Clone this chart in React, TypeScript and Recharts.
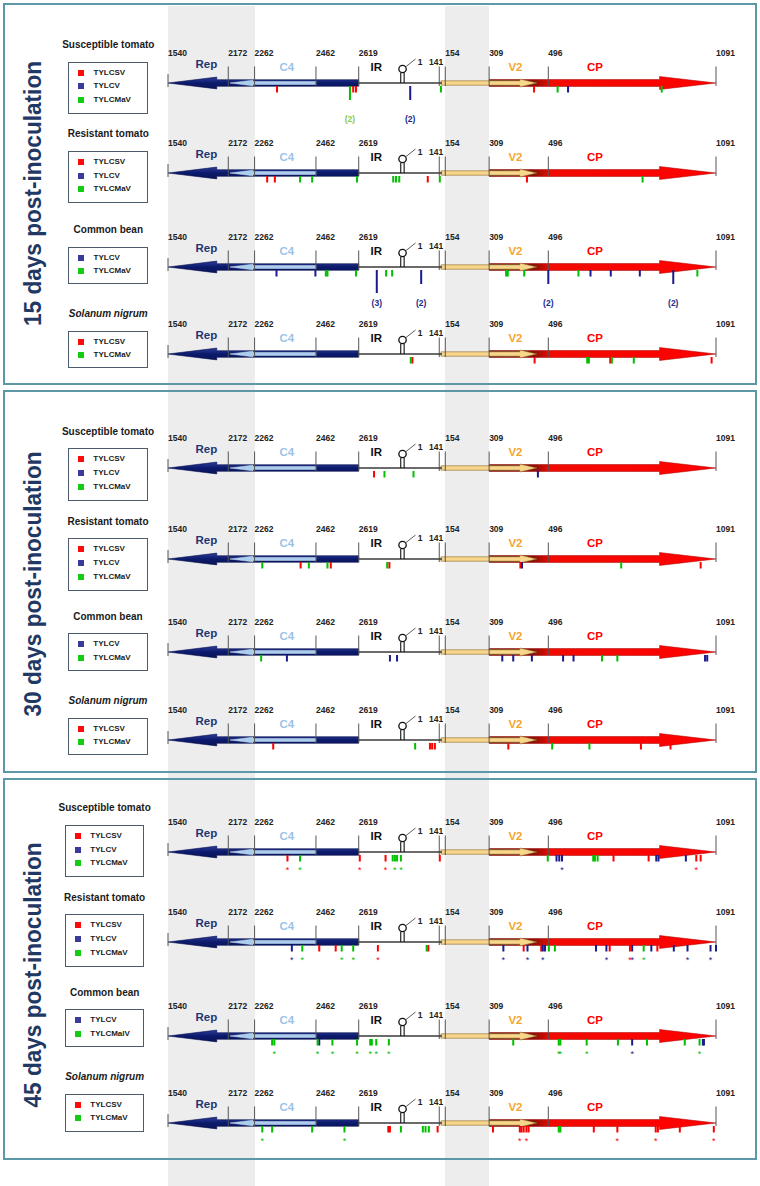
import React from 'react';
import {
  ScatterChart,
  Scatter,
  XAxis,
  YAxis,
  ReferenceArea,
  ReferenceLine,
  ReferenceDot,
  Legend,
} from 'recharts';

const FONT = '"Liberation Sans", Arial, Helvetica, sans-serif';

// ---------------- genome map (x = % along the drawn segment: 0 = nt 1540, 100 = nt 1091)
const breakpointLabels = ['1540', '2172', '2262', '2462', '2619', '141', '154', '309', '496', '1091'];
const breakpointMapPos = [0, 11.0, 15.8, 27.0, 34.8, 49.5, 50.6, 58.6, 69.4, 100];
const stemLoopMapPos = 42.8;
const stemLoopLabel = '1';
const irSpan = [34.8, 50.0];

const geneLabels = ['Rep', 'C4', 'IR', 'V2', 'CP'];
const geneLabelMapPos = [7.0, 21.7, 38.0, 63.4, 77.9];

const orfNames = ['Rep', 'C4', 'CP', 'V2'];
const orfFrom = [34.8, 27.0, 58.6, 49.8];
const orfTo = [0, 11.3, 100, 67.3];
const orfHeadBase = [8.9, 15.5, 89.7, 64.2];

const panelTitles = ['15 days post-inoculation', '30 days post-inoculation', '45 days post-inoculation'];

// ---------------- mutations (x = map position, n = number of clones, s = starred)
type Mut = { x: number; n?: number; s?: number };

const m15SusSV: Mut[] = [{ x: 19.9 }, { x: 33.8 }, { x: 34.3 }, { x: 66.8 }];
const m15SusV: Mut[] = [{ x: 44.2, n: 2 }, { x: 73.0 }];
const m15SusMaV: Mut[] = [{ x: 33.2, n: 2 }, { x: 49.8 }, { x: 71.1 }, { x: 90.1 }];

const m15ResSV: Mut[] = [{ x: 18.1 }, { x: 19.5 }, { x: 47.4 }, { x: 65.5 }];
const m15ResV: Mut[] = [];
const m15ResMaV: Mut[] = [{ x: 24.1 }, { x: 26.3 }, { x: 34.5 }, { x: 41.1 }, { x: 41.6 }, { x: 42.2 }, { x: 49.6 }, { x: 86.6 }];

const m15BeanV: Mut[] = [{ x: 19.8 }, { x: 26.9 }, { x: 38.1, n: 3 }, { x: 46.2, n: 2 }, { x: 69.4, n: 2 }, { x: 77.1 }, { x: 80.8 }, { x: 86.1 }, { x: 92.2, n: 2 }];
const m15BeanMaV: Mut[] = [{ x: 28.8 }, { x: 29.1 }, { x: 34.3 }, { x: 39.8 }, { x: 40.9 }, { x: 61.7 }, { x: 62.0 }, { x: 65.0 }, { x: 74.9 }, { x: 96.6 }];

const m15SolSV: Mut[] = [{ x: 44.6 }, { x: 66.9 }, { x: 80.7 }, { x: 99.2 }];
const m15SolMaV: Mut[] = [{ x: 44.3 }, { x: 76.5 }, { x: 76.8 }, { x: 81.0 }, { x: 85.0 }];

const m30SusSV: Mut[] = [{ x: 37.6 }];
const m30SusV: Mut[] = [{ x: 67.5 }];
const m30SusMaV: Mut[] = [{ x: 39.5 }, { x: 44.8 }];

const m30ResSV: Mut[] = [{ x: 24.2 }, { x: 29.7 }, { x: 40.4 }, { x: 64.3 }, { x: 97.2 }];
const m30ResV: Mut[] = [{ x: 64.6 }];
const m30ResMaV: Mut[] = [{ x: 17.2 }, { x: 25.7 }, { x: 29.1 }, { x: 40.0 }, { x: 82.7 }];

const m30BeanV: Mut[] = [{ x: 21.7 }, { x: 40.5 }, { x: 41.8 }, { x: 61.0 }, { x: 63.0 }, { x: 66.4 }, { x: 72.1 }, { x: 74.0 }, { x: 98.0 }, { x: 98.4 }];
const m30BeanMaV: Mut[] = [{ x: 17.0 }, { x: 79.2 }, { x: 82.0 }];

const m30SolSV: Mut[] = [{ x: 19.2 }, { x: 47.8 }, { x: 48.2 }, { x: 48.7 }, { x: 62.1 }, { x: 86.3 }, { x: 91.7 }];
const m30SolMaV: Mut[] = [{ x: 45.1 }, { x: 70.1 }, { x: 76.9 }];

const m45SusSV: Mut[] = [{ x: 21.8, s: 1 }, { x: 35.0, s: 1 }, { x: 39.7, s: 1 }, { x: 49.6 }, { x: 81.3 }, { x: 87.7 }, { x: 96.4, s: 1 }, { x: 97.2 }];
const m45SusV: Mut[] = [{ x: 70.9 }, { x: 71.4 }, { x: 71.9, s: 1 }, { x: 89.1 }, { x: 89.5 }, { x: 94.5 }];
const m45SusMaV: Mut[] = [{ x: 24.1, s: 1 }, { x: 41.0 }, { x: 41.4, s: 1 }, { x: 41.8 }, { x: 42.5, s: 1 }, { x: 69.3 }, { x: 77.6 }, { x: 77.9 }, { x: 78.4 }];

const m45ResSV: Mut[] = [{ x: 27.6 }, { x: 30.6 }, { x: 38.3, s: 1 }, { x: 47.5 }, { x: 64.9 }, { x: 68.1 }, { x: 80.6 }, { x: 84.3, s: 1 }, { x: 89.3 }];
const m45ResV: Mut[] = [{ x: 22.6, s: 1 }, { x: 61.2, s: 1 }, { x: 65.6, s: 1 }, { x: 68.4, s: 1 }, { x: 68.8 }, { x: 78.1 }, { x: 80.0, s: 1 }, { x: 84.7, s: 1 }, { x: 88.2 }, { x: 92.3 }, { x: 94.8, s: 1 }, { x: 99.0, s: 1 }, { x: 100 }];
const m45ResMaV: Mut[] = [{ x: 24.5, s: 1 }, { x: 31.7, s: 1 }, { x: 33.8, s: 1 }, { x: 47.2 }, { x: 69.5 }, { x: 70.6 }, { x: 86.8, s: 1 }];

const m45BeanV: Mut[] = [{ x: 27.6 }, { x: 84.7, s: 1 }, { x: 97.6 }, { x: 97.8 }];
const m45BeanMalV: Mut[] = [{ x: 19.0 }, { x: 19.4, s: 1 }, { x: 27.3, s: 1 }, { x: 30.0, s: 1 }, { x: 34.5, s: 1 }, { x: 36.9, s: 1 }, { x: 37.2 }, { x: 38.0, s: 1 }, { x: 40.3, s: 1 }, { x: 63.0 }, { x: 71.3, s: 1 }, { x: 71.6, s: 1 }, { x: 76.4, s: 1 }, { x: 82.1 }, { x: 87.4 }, { x: 94.3 }, { x: 97.0, s: 1 }];

const m45SolSV: Mut[] = [{ x: 40.2 }, { x: 40.5 }, { x: 49.2 }, { x: 59.3 }, { x: 64.2, s: 1 }, { x: 64.5 }, { x: 64.9 }, { x: 65.4, s: 1 }, { x: 65.8 }, { x: 77.7 }, { x: 82.0, s: 1 }, { x: 89.0, s: 1 }, { x: 89.4 }, { x: 93.4 }, { x: 99.6, s: 1 }];
const m45SolMaV: Mut[] = [{ x: 17.2, s: 1 }, { x: 19.0 }, { x: 26.3 }, { x: 32.2, s: 1 }, { x: 42.5 }, { x: 46.5 }, { x: 47.0 }, { x: 47.6 }, { x: 71.3 }, { x: 71.6 }];

// ---------------- styles
const tickColor: Record<string, string> = { TYLCSV: '#ff0000', TYLCV: '#1b1b8f', TYLCMaV: '#00c000', TYLCMalV: '#00c000' };
const swatchColor: Record<string, string> = { TYLCSV: '#ff0a0a', TYLCV: '#3a3a9a', TYLCMaV: '#14cc14', TYLCMalV: '#14cc14' };
const countColor: Record<string, string> = { TYLCSV: '#ff0000', TYLCV: '#1c2a8c', TYLCMaV: '#8cc84b', TYLCMalV: '#8cc84b' };
const geneLabelColor: Record<string, string> = { Rep: '#1f3572', C4: '#9cc3e6', IR: '#111111', V2: '#f4a532', CP: '#ff0000' };
const orfStyle: Record<string, { shaft: number; head: number }> = {
  Rep: { shaft: 3.3, head: 5.9 },
  C4: { shaft: 1.4, head: 2.8 },
  CP: { shaft: 3.5, head: 6.5 },
  V2: { shaft: 2.2, head: 4.0 },
};

type Track = {
  host: string;
  italic?: boolean;
  y0: number;
  boxTop: number;
  boxLeft: number;
  boxW: number;
  series: [string, Mut[]][];
};

const tracks: Track[] = [
  { host: 'Susceptible tomato', y0: 83.3, boxTop: 61.7, boxLeft: 68.3, boxW: 80, series: [['TYLCSV', m15SusSV], ['TYLCV', m15SusV], ['TYLCMaV', m15SusMaV]] },
  { host: 'Resistant tomato', y0: 173.3, boxTop: 151, boxLeft: 68.3, boxW: 80, series: [['TYLCSV', m15ResSV], ['TYLCV', m15ResV], ['TYLCMaV', m15ResMaV]] },
  { host: 'Common bean', y0: 266.7, boxTop: 246.7, boxLeft: 68.3, boxW: 80, series: [['TYLCV', m15BeanV], ['TYLCMaV', m15BeanMaV]] },
  { host: 'Solanum nigrum', italic: true, y0: 354, boxTop: 330.7, boxLeft: 68.3, boxW: 80, series: [['TYLCSV', m15SolSV], ['TYLCMaV', m15SolMaV]] },
  { host: 'Susceptible tomato', y0: 468.3, boxTop: 448.3, boxLeft: 68, boxW: 80, series: [['TYLCSV', m30SusSV], ['TYLCV', m30SusV], ['TYLCMaV', m30SusMaV]] },
  { host: 'Resistant tomato', y0: 559, boxTop: 538.3, boxLeft: 68, boxW: 80, series: [['TYLCSV', m30ResSV], ['TYLCV', m30ResV], ['TYLCMaV', m30ResMaV]] },
  { host: 'Common bean', y0: 652, boxTop: 633.3, boxLeft: 68, boxW: 80, series: [['TYLCV', m30BeanV], ['TYLCMaV', m30BeanMaV]] },
  { host: 'Solanum nigrum', italic: true, y0: 739.5, boxTop: 717.7, boxLeft: 68, boxW: 80, series: [['TYLCSV', m30SolSV], ['TYLCMaV', m30SolMaV]] },
  { host: 'Susceptible tomato', y0: 851.7, boxTop: 825, boxLeft: 65, boxW: 79.3, series: [['TYLCSV', m45SusSV], ['TYLCV', m45SusV], ['TYLCMaV', m45SusMaV]] },
  { host: 'Resistant tomato', y0: 942.3, boxTop: 914.3, boxLeft: 65, boxW: 79.3, series: [['TYLCSV', m45ResSV], ['TYLCV', m45ResV], ['TYLCMaV', m45ResMaV]] },
  { host: 'Common bean', y0: 1035.7, boxTop: 1009.3, boxLeft: 65, boxW: 79.3, series: [['TYLCV', m45BeanV], ['TYLCMalV', m45BeanMalV]] },
  { host: 'Solanum nigrum', italic: true, y0: 1123.3, boxTop: 1094, boxLeft: 65, boxW: 79.3, series: [['TYLCSV', m45SolSV], ['TYLCMaV', m45SolMaV]] },
];

const panelBoxes = [
  { top: 3, height: 382, titleY: 193.5 },
  { top: 390, height: 383, titleY: 584 },
  { top: 778, height: 382, titleY: 975 },
];

const CH = 90; // chart height
const TOP = 46; // px from chart top to baseline

// ---------------- shapes
const orfShape = (i: number, tid: number) => (props: any) => {
  const { x, y, width, height } = props;
  const from = orfFrom[i];
  const to = orfTo[i];
  const hb = orfHeadBase[i];
  const lo = Math.min(from, to);
  const hi = Math.max(from, to);
  const px = (v: number) => x + (width * (v - lo)) / (hi - lo);
  const cy = y + height / 2;
  const name = orfNames[i];
  const st = orfStyle[name];
  const xs = px(from);
  const xt = px(to);
  const xh = px(hb);
  const d = `M${xs},${cy - st.shaft} L${xh},${cy - st.shaft} L${xh},${cy - st.head} L${xt},${cy} L${xh},${cy + st.head} L${xh},${cy + st.shaft} L${xs},${cy + st.shaft} Z`;
  if (name === 'Rep') {
    const id = `rep-g-${tid}`;
    return (
      <g>
        <defs>
          <linearGradient id={id} x1="0" y1="0" x2="0" y2="1">
            <stop offset="0" stopColor="#2c3d98" />
            <stop offset="0.5" stopColor="#0c1a6c" />
            <stop offset="1" stopColor="#0a1457" />
          </linearGradient>
        </defs>
        <path d={d} fill={`url(#${id})`} stroke="#0a1450" strokeWidth={0.6} />
      </g>
    );
  }
  if (name === 'CP') {
    const id = `cp-g-${tid}`;
    return (
      <g>
        <defs>
          <linearGradient id={id} x1="0" y1="0" x2="1" y2="0">
            <stop offset="0" stopColor="#4a1408" />
            <stop offset="0.2" stopColor="#8c1006" />
            <stop offset="0.27" stopColor="#f20a00" />
            <stop offset="1" stopColor="#ff0000" />
          </linearGradient>
        </defs>
        <path d={d} fill={`url(#${id})`} stroke="#a00000" strokeWidth={0.5} />
      </g>
    );
  }
  if (name === 'C4') {
    return <path d={d} fill="#a9cdee" stroke="#d9e8f6" strokeWidth={0.5} />;
  }
  return <path d={d} fill="#f8d68c" stroke="#8a6a2a" strokeWidth={0.6} />;
};

const StemLoop = (props: any) => {
  const { cx, cy } = props;
  return (
    <g>
      <line x1={cx - 1.8} y1={cy - 10} x2={cx - 1.8} y2={cy} stroke="#111" strokeWidth={1.1} />
      <line x1={cx + 1.6} y1={cy - 10} x2={cx + 1.6} y2={cy} stroke="#111" strokeWidth={1.1} />
      <circle cx={cx} cy={cy - 14} r={3.7} fill="#fff" stroke="#111" strokeWidth={1.3} />
      <line x1={cx + 3.5} y1={cy - 16.5} x2={cx + 13} y2={cy - 24} stroke="#333" strokeWidth={0.8} />
      <text x={cx + 17.5} y={cy - 21} textAnchor="middle" dominantBaseline="central" fontSize={8.5} fontWeight={700} fill="#222" fontFamily={FONT}>
        {stemLoopLabel}
      </text>
    </g>
  );
};

const PosLabel = (props: any) => {
  const { cx, cy, payload } = props;
  const low = payload.label === '141';
  return (
    <text
      x={low ? cx + 4 : cx}
      y={cy + (low ? -21 : -30)}
      textAnchor={low ? 'end' : 'start'}
      dominantBaseline="central"
      fontSize={8.5}
      fontWeight={700}
      fill="#222"
      fontFamily={FONT}
    >
      {payload.label}
    </text>
  );
};

const GeneLabel = (props: any) => {
  const { cx, cy, payload } = props;
  const dy = payload.name === 'Rep' ? -19.5 : -16;
  return (
    <text
      x={cx}
      y={cy + dy}
      textAnchor="middle"
      dominantBaseline="central"
      fontSize={11.5}
      fontWeight={700}
      fill={geneLabelColor[payload.name]}
      fontFamily={FONT}
    >
      {payload.name}
    </text>
  );
};

const mutShape = (virus: string) => (props: any) => {
  const { cx, cy, payload } = props;
  const n = payload.n || 1;
  const len = n === 1 ? 6.5 : n === 2 ? 14 : 23;
  const c = tickColor[virus];
  return (
    <g>
      <rect x={cx - 1} y={cy + 3} width={2} height={len} fill={c} />
      {payload.s ? (
        <text x={cx} y={cy + 20.5} textAnchor="middle" fontSize={9} fill={c} fontFamily={FONT}>
          *
        </text>
      ) : null}
      {n > 1 ? (
        <text x={cx} y={cy + 36} textAnchor="middle" dominantBaseline="central" fontSize={8.5} fontWeight={700} fill={countColor[virus]} fontFamily={FONT}>
          ({n})
        </text>
      ) : null}
    </g>
  );
};

const legendContent = (t: Track) => (props: any) => {
  const payload: any[] = props.payload || [];
  const items = t.series.map(([name]) => {
    const p = payload.find((q: any) => q.value === name);
    return { name, color: swatchColor[name] || (p && p.color) };
  });
  const chartTop = t.y0 - TOP;
  const boxTopRel = t.boxTop - chartTop;
  const three = items.length === 3;
  const boxH = three ? 52.5 : 37.8;
  const gap = three ? 13.6 : 13.3;
  const wrapW = t.boxW + 30;
  return (
    <div style={{ position: 'relative', width: wrapW, height: CH, fontFamily: FONT }}>
      <div
        style={{
          position: 'absolute',
          left: 0,
          width: wrapW,
          top: boxTopRel - 16.7 - 6,
          lineHeight: '12px',
          textAlign: 'center',
          fontSize: 10,
          fontWeight: 700,
          fontStyle: t.italic ? 'italic' : 'normal',
          color: '#1a1a1a',
          whiteSpace: 'nowrap',
        }}
      >
        {t.host}
      </div>
      <div
        style={{
          position: 'absolute',
          left: 15,
          top: boxTopRel,
          width: t.boxW,
          height: boxH,
          border: '1.5px solid #4b5a6c',
          boxSizing: 'border-box',
          background: '#fff',
        }}
      >
        {items.map((it, k) => (
          <div key={it.name} style={{ position: 'absolute', left: 0, top: 10.1 + k * gap - 6, height: 12, width: t.boxW - 3 }}>
            <span style={{ position: 'absolute', left: 9, top: 3, width: 6, height: 6, background: it.color }} />
            <span
              style={{
                position: 'absolute',
                left: 24.3,
                top: 0,
                lineHeight: '12px',
                fontSize: 8,
                fontWeight: 700,
                color: '#1a1a1a',
                whiteSpace: 'nowrap',
              }}
            >
              {it.name}
            </span>
          </div>
        ))}
      </div>
    </div>
  );
};

function TrackChart({ t, tid }: { t: Track; tid: number }) {
  const posData = breakpointLabels.map((label, i) => ({ x: breakpointMapPos[i], y: 0, label }));
  const geneData = geneLabels.map((name, i) => ({ x: geneLabelMapPos[i], y: 0, name }));
  return (
    <div style={{ position: 'absolute', left: 0, top: t.y0 - TOP, width: 760, height: CH }}>
      <ScatterChart width={760} height={CH} margin={{ top: 0, right: 44, bottom: 0, left: 168 }}>
        <XAxis type="number" dataKey="x" domain={[0, 100]} hide />
        <YAxis type="number" dataKey="y" domain={[TOP - CH, TOP]} hide />
        {breakpointMapPos.map((p, i) => (
          <ReferenceLine
            key={`bp-${i}`}
            segment={i === 0 ? [{ x: p, y: 9 }, { x: p, y: -4 }] : [{ x: p, y: 16.5 }, { x: p, y: -3 }]}
            stroke="#555"
            strokeWidth={1}
          />
        ))}
        <ReferenceLine segment={[{ x: irSpan[0], y: 0 }, { x: irSpan[1], y: 0 }]} stroke="#3a3a3a" strokeWidth={1.6} />
        {orfNames.map((name, i) => (
          <ReferenceArea
            key={name}
            x1={Math.min(orfFrom[i], orfTo[i])}
            x2={Math.max(orfFrom[i], orfTo[i])}
            y1={-7}
            y2={7}
            shape={orfShape(i, tid)}
          />
        ))}
        <ReferenceDot x={stemLoopMapPos} y={0} shape={StemLoop} />
        <Scatter data={posData} shape={PosLabel} legendType="none" isAnimationActive={false} />
        <Scatter data={geneData} shape={GeneLabel} legendType="none" isAnimationActive={false} />
        {t.series.map(([name, data]) => (
          <Scatter
            key={name}
            name={name}
            data={data.map((m) => ({ ...m, y: 0 }))}
            fill={swatchColor[name]}
            shape={mutShape(name)}
            isAnimationActive={false}
          />
        ))}
        <Legend
          layout="horizontal"
          verticalAlign="middle"
          align="center"
          content={legendContent(t)}
          wrapperStyle={{ left: t.boxLeft - 15, top: 0, width: t.boxW + 30, height: CH }}
        />
      </ScatterChart>
    </div>
  );
}

export default function App() {
  return (
    <div style={{ position: 'absolute', left: 0, top: 0, width: 760, height: 1186, background: '#fff', overflow: 'hidden', fontFamily: FONT }}>
      <div style={{ position: 'absolute', left: 168, top: 6, width: 87, height: 1180, background: '#ededed' }} />
      <div style={{ position: 'absolute', left: 445, top: 6, width: 43.5, height: 1180, background: '#ededed' }} />
      {panelBoxes.map((p, i) => (
        <div
          key={i}
          style={{
            position: 'absolute',
            left: 3,
            top: p.top,
            width: 754,
            height: p.height,
            border: '2px solid #5d98a7',
            boxSizing: 'border-box',
          }}
        />
      ))}
      <svg width={760} height={1186} style={{ position: 'absolute', left: 0, top: 0 }}>
        {panelBoxes.map((p, i) => (
          <text
            key={i}
            x={32}
            y={p.titleY}
            transform={`rotate(-90, 32, ${p.titleY})`}
            textAnchor="middle"
            dominantBaseline="central"
            fontSize={24}
            fontWeight={700}
            fill="#1f3864"
            fontFamily={FONT}
            textLength={265}
            lengthAdjust="spacingAndGlyphs"
          >
            {panelTitles[i]}
          </text>
        ))}
      </svg>
      {tracks.map((t, i) => (
        <TrackChart key={i} t={t} tid={i} />
      ))}
    </div>
  );
}
